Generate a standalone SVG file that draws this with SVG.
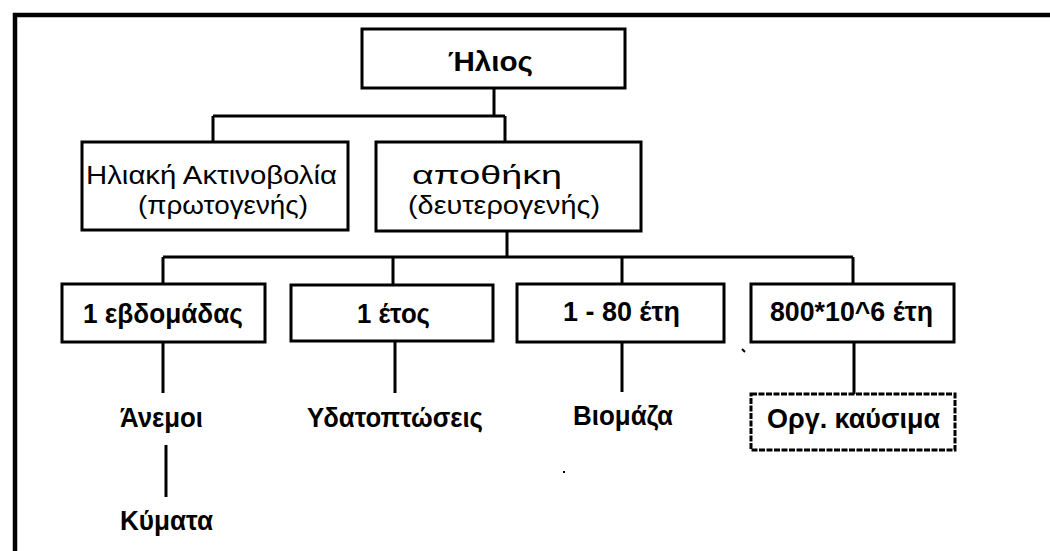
<svg xmlns="http://www.w3.org/2000/svg" width="1050" height="551" viewBox="0 0 1050 551">
<style>
.box{fill:#fff;stroke:#000;stroke-width:3}
.dash{fill:#fff;stroke:#000;stroke-width:3;stroke-dasharray:6 1.5}
.ln{fill:none;stroke:#000;stroke-width:3}
.t{font-family:"Liberation Sans",Arial,sans-serif;font-weight:bold;font-size:27px;fill:#000;text-anchor:middle}
.r{font-family:"Liberation Sans",Arial,sans-serif;font-weight:normal;font-size:25px;fill:#000;text-anchor:middle}
</style>
<rect width="1050" height="551" fill="#fff"/>
<g id="frame">
<path d="M15 551 V15 H1050" fill="none" stroke="#000" stroke-width="4.5"/>
</g>
<g id="connectors">
<path class="ln" d="M494 88 V116 M213 116 H505 M213 116 V142 M505 116 V142"/>
<path class="ln" d="M507 231 V257 M163 257 H853 M163 257 V284 M393 257 V285 M622 257 V284 M853 257 V284"/>
<path class="ln" d="M163 342 V393 M395 342 V393 M622 342 V392 M854 342 V395"/>
<path class="ln" d="M166 445 V497"/>
</g>
<g id="n-ilios">
<rect class="box" x="362" y="29" width="263" height="59"/>
<text class="t" x="490.5" y="71" textLength="85" lengthAdjust="spacingAndGlyphs">Ήλιος</text>
</g>
<g id="n-aktinovolia">
<rect class="box" x="82" y="142" width="266" height="88"/>
<text class="r" x="211.5" y="184" textLength="251" lengthAdjust="spacingAndGlyphs">Ηλιακή Ακτινοβολία</text>
<text class="r" x="223" y="214" textLength="170" lengthAdjust="spacingAndGlyphs">(πρωτογενής)</text>
</g>
<g id="n-apothiki">
<rect class="box" x="376" y="142" width="265" height="89"/>
<text class="r" x="487" y="184" textLength="150" lengthAdjust="spacingAndGlyphs">αποθήκη</text>
<text class="r" x="504" y="214" textLength="192" lengthAdjust="spacingAndGlyphs">(δευτερογενής)</text>
</g>
<g id="n-evdomadas">
<rect class="box" x="62" y="284" width="203" height="58"/>
<text class="t" x="163" y="323" textLength="160" lengthAdjust="spacingAndGlyphs">1 εβδομάδας</text>
</g>
<g id="n-etos">
<rect class="box" x="291" y="285" width="202" height="56"/>
<text class="t" x="393.5" y="323" textLength="73" lengthAdjust="spacingAndGlyphs">1 έτος</text>
</g>
<g id="n-80">
<rect class="box" x="517" y="284" width="207" height="58"/>
<text class="t" x="621.5" y="321" textLength="117" lengthAdjust="spacingAndGlyphs">1 - 80 έτη</text>
</g>
<g id="n-800">
<rect class="box" x="751" y="284" width="203" height="58"/>
<text class="t" x="851.5" y="321" textLength="163" lengthAdjust="spacingAndGlyphs">800*10^6 έτη</text>
</g>
<g id="n-anemoi">
<text class="t" x="161.5" y="427" textLength="83" lengthAdjust="spacingAndGlyphs">Άνεμοι</text>
</g>
<g id="n-kymata">
<text class="t" x="166.5" y="530" textLength="93" lengthAdjust="spacingAndGlyphs">Κύματα</text>
</g>
<g id="n-ydat">
<text class="t" x="395" y="427" textLength="176" lengthAdjust="spacingAndGlyphs">Υδατοπτώσεις</text>
</g>
<g id="n-viomaza">
<text class="t" x="623" y="425" textLength="100" lengthAdjust="spacingAndGlyphs">Βιομάζα</text>
</g>
<g id="n-org">
<rect class="dash" x="751" y="394" width="204" height="56"/>
<text class="t" x="853.5" y="428" textLength="173" lengthAdjust="spacingAndGlyphs">Οργ. καύσιμα</text>
</g>
<g id="specks">
<path d="M742 349 L745 352" stroke="#000" stroke-width="2"/>
<rect x="563" y="471" width="2" height="2" fill="#000"/>
</g>
</svg>
